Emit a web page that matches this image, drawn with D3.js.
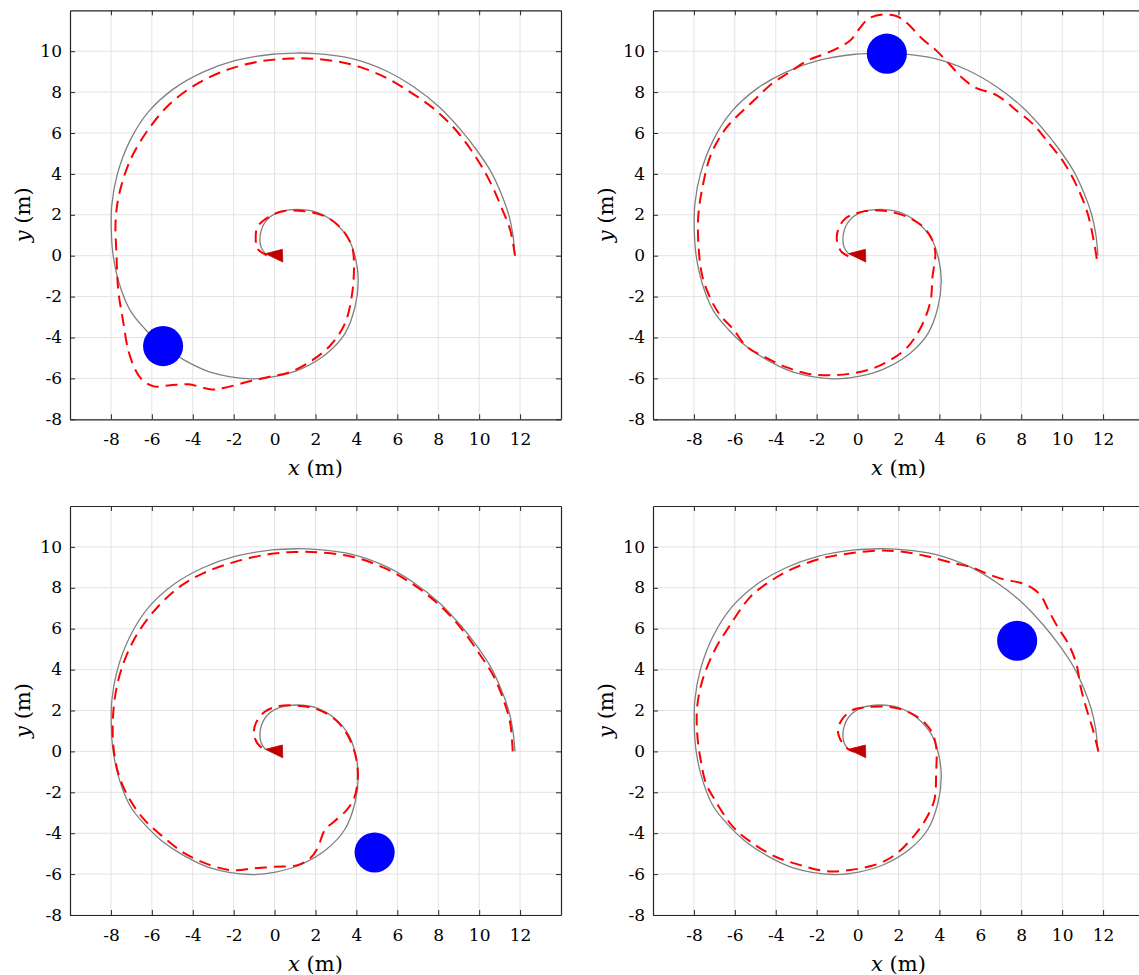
<!DOCTYPE html>
<html>
<head>
<meta charset="utf-8">
<script src="https://cdn.jsdelivr.net/npm/d3@7"></script>
<style>
  body { margin: 0; background: #ffffff; }
  svg { display: block; }
  text { font-family: "DejaVu Serif", serif; fill: #000; }
</style>
</head>
<body>
<svg id="chart" width="1139" height="975"></svg>
<script>
// ---------------- data ----------------
const xTicks = [-8, -6, -4, -2, 0, 2, 4, 6, 8, 10, 12];
const yTicks = [-8, -6, -4, -2, 0, 2, 4, 6, 8, 10];
const xDomain = [-10, 14];
const yDomain = [-8, 12];

// reference (desired) spiral path, gray
const refPath = [
  [11.75,0],[11.64,1.08],[11.43,2.05],[11.08,3.03],[10.54,4.17],[9.83,5.23],[9.12,6.13],
  [8.05,7.27],[6.81,8.25],[5.39,9.07],[3.79,9.64],[2.01,9.88],[1.03,9.91],[-0.12,9.85],
  [-1.9,9.55],[-3.5,8.98],[-4.92,8.17],[-6.17,7.03],[-7.06,5.64],[-7.68,4.01],[-7.95,2.54],
  [-7.98,1.24],[-7.89,0],[-7.59,-1.37],[-7.06,-2.67],[-6.35,-3.57],[-5.46,-4.42],[-4.39,-5.12],
  [-3.15,-5.69],[-1.19,-6.02],[0.05,-5.9],[1.3,-5.53],[2.54,-4.79],[3.43,-3.82],[3.93,-2.51],
  [4.09,-1.21],[3.96,-0.15],[3.61,0.83],[2.9,1.65],[2.01,2.14],[1.12,2.27],[0.23,2.14],
  [-0.39,1.73],[-0.69,1.08],[-0.66,0.42],[-0.45,0.1]
];

// actual (tracked) paths, red dashed, one per panel
const pathA = [
  [11.75,0],[11.52,1.24],[11.08,2.38],[10.54,3.6],[9.83,4.83],[8.94,6.05],[7.88,7.11],
  [6.63,8.0],[5.21,8.82],[3.61,9.39],[2.01,9.62],[0.76,9.64],[-0.66,9.51],[-2.26,9.11],
  [-3.77,8.41],[-5.1,7.44],[-6.26,6.05],[-7.06,4.66],[-7.59,3.03],[-7.77,1.73],[-7.73,0.1],
  [-7.64,-1.7],[-7.41,-3.16],[-7.15,-4.63],[-6.79,-5.61],[-6.44,-6.1],[-5.9,-6.39],
  [-5.1,-6.34],[-4.21,-6.29],[-3.06,-6.54],[-2.44,-6.46],[-1.37,-6.18],[-0.3,-5.93],
  [0.76,-5.69],[1.83,-5.12],[2.72,-4.39],[3.43,-3.33],[3.79,-1.86],[3.88,-0.39],[3.79,0.42],
  [3.34,1.24],[2.54,1.89],[1.48,2.17],[0.41,2.17],[-0.3,1.89],[-0.84,1.4],[-0.92,0.75],
  [-0.84,0.34],[-0.39,0.02]
];
const pathB = [
  [11.69,-0.15],[11.6,0.42],[11.25,2.05],[10.81,3.2],[10.12,4.5],[9.24,5.64],[8.55,6.46],
  [7.85,7.03],[6.81,7.84],[5.76,8.22],[5.15,8.66],[4.54,9.31],[3.84,10.04],[3.14,10.62],
  [2.44,11.35],[1.92,11.71],[1.22,11.79],[0.53,11.59],[0.09,11.1],[-0.35,10.53],[-0.87,10.21],
  [-1.57,9.88],[-2.44,9.55],[-3.31,8.98],[-4.19,8.41],[-5.06,7.6],[-5.93,6.78],[-6.45,6.21],
  [-7.15,4.99],[-7.58,3.36],[-7.79,1.89],[-7.76,0.26],[-7.58,-1.04],[-7.15,-2.18],
  [-6.71,-2.92],[-6.1,-3.57],[-5.4,-4.47],[-4.53,-4.96],[-3.49,-5.45],[-2.44,-5.77],
  [-1.39,-5.85],[-0.35,-5.77],[0.7,-5.53],[1.57,-5.12],[2.44,-4.47],[3.14,-3.41],[3.57,-2.18],
  [3.66,-1.04],[3.8,0.1],[3.66,0.75],[3.22,1.4],[2.44,1.89],[1.4,2.18],[0.35,2.18],
  [-0.61,1.81],[-0.96,1.24],[-1.01,0.75],[-0.78,0.18],[-0.35,-0.07]
];
const pathC = [
  [11.64,0],[11.52,1.37],[11.25,2.35],[10.72,3.65],[10.0,4.79],[9.12,6.02],[8.05,7.16],
  [6.81,8.14],[5.39,8.96],[3.79,9.52],[2.19,9.73],[0.94,9.75],[-0.3,9.64],[-1.9,9.28],
  [-3.5,8.71],[-4.75,7.97],[-5.99,6.75],[-6.88,5.45],[-7.5,3.98],[-7.8,2.67],[-7.91,1.37],
  [-7.86,0.07],[-7.59,-1.24],[-7.06,-2.38],[-6.35,-3.36],[-5.46,-4.17],[-4.39,-4.99],
  [-3.15,-5.56],[-2.08,-5.81],[-1.01,-5.72],[0.05,-5.64],[1.12,-5.56],[1.74,-5.23],
  [2.1,-4.74],[2.45,-3.85],[2.9,-3.44],[3.52,-2.87],[3.88,-2.3],[4.05,-1.57],[4.05,-0.75],
  [3.88,0.07],[3.52,0.88],[2.99,1.53],[2.19,2.02],[1.3,2.22],[0.23,2.22],[-0.48,1.94],
  [-0.92,1.37],[-1.01,0.88],[-0.84,0.39],[-0.39,-0.02]
];
const pathD = [
  [11.77,0],[11.51,1.04],[11.16,2.18],[10.9,3.16],[10.69,4.3],[10.29,5.28],[9.77,6.1],
  [9.33,6.91],[8.99,7.57],[8.63,7.92],[8.03,8.22],[7.15,8.41],[6.28,8.71],[5.59,9.0],
  [4.71,9.2],[3.32,9.56],[2.1,9.77],[1.05,9.82],[-0.35,9.69],[-1.74,9.44],[-3.14,8.95],
  [-4.18,8.38],[-5.23,7.57],[-6.28,6.1],[-6.98,4.96],[-7.58,3.49],[-7.84,2.18],[-7.84,0.88],
  [-7.67,-0.42],[-7.41,-1.57],[-6.97,-2.38],[-6.1,-3.68],[-5.23,-4.42],[-4.01,-5.15],
  [-2.79,-5.56],[-1.57,-5.85],[-0.35,-5.8],[1.05,-5.48],[1.92,-4.99],[2.79,-4.09],
  [3.31,-3.36],[3.75,-2.38],[3.84,-1.08],[3.84,0.23],[3.66,0.88],[3.31,1.37],[2.62,1.86],
  [1.74,2.15],[0.7,2.18],[-0.26,2.02],[-0.78,1.53],[-0.96,1.04],[-0.87,0.64],[-0.52,0.15],
  [-0.17,-0.02]
];
const actualPaths = [pathA, pathB, pathC, pathD];

// obstacle centres (m) and radius (m)
const obstacleX = [-5.45, 1.43, 4.89, 7.8];
const obstacleY = [-4.42, 9.88, -4.94, 5.41];
const obstacleR = 0.98;

// start-pose marker (triangle) vertices in metres
const startMarker = [[-0.45, 0.1], [0.38, 0.31], [0.4, -0.31]];

// ---------------- layout ----------------
const panelLeft = [70, 653, 70, 653];
const panelTop = [10.3, 10.3, 506, 506];
const plotW = 491, plotH = 409;

const svg = d3.select("#chart");

for (let p = 0; p < 4; p++) {
  const L = panelLeft[p], T = panelTop[p];
  const x = d3.scaleLinear().domain(xDomain).range([L, L + plotW]);
  const y = d3.scaleLinear().domain(yDomain).range([T + plotH, T]);
  const g = svg.append("g");

  const clipId = "clip" + p;
  g.append("clipPath").attr("id", clipId)
    .append("rect").attr("x", L).attr("y", T).attr("width", plotW).attr("height", plotH);

  // grid
  g.append("g").selectAll("line").data(xTicks).join("line")
    .attr("x1", d => x(d)).attr("x2", d => x(d)).attr("y1", T).attr("y2", T + plotH)
    .attr("stroke", "#e3e3e3").attr("stroke-width", 1);
  g.append("g").selectAll("line").data(yTicks).join("line")
    .attr("y1", d => y(d)).attr("y2", d => y(d)).attr("x1", L).attr("x2", L + plotW)
    .attr("stroke", "#e3e3e3").attr("stroke-width", 1);

  const data = g.append("g").attr("clip-path", `url(#${clipId})`);
  const line = d3.line().x(d => x(d[0])).y(d => y(d[1])).curve(d3.curveCatmullRom.alpha(0.5));

  data.append("path").datum(refPath).attr("d", line)
    .attr("fill", "none").attr("stroke", "#808080").attr("stroke-width", 1.3);

  data.append("path").datum(actualPaths[p]).attr("d", line)
    .attr("fill", "none").attr("stroke", "#ff0000").attr("stroke-width", 2)
    .attr("stroke-dasharray", "12,7");

  data.append("ellipse")
    .attr("cx", x(obstacleX[p])).attr("cy", y(obstacleY[p]))
    .attr("rx", x(obstacleR) - x(0)).attr("ry", y(0) - y(obstacleR))
    .attr("fill", "#0000ff");

  data.append("path").datum(startMarker)
    .attr("d", d3.line().x(d => x(d[0])).y(d => y(d[1])).curve(d3.curveLinearClosed))
    .attr("fill", "#c00000").attr("stroke", "#c00000").attr("stroke-width", 0.8);

  // axes: bottom & left with labels, top & right mirrored ticks
  const axisColor = "#262626";
  const xb = g.append("g").attr("transform", `translate(0,${T + plotH})`)
    .call(d3.axisBottom(x).tickValues(xTicks).tickSizeInner(-5).tickSizeOuter(0).tickPadding(14)
      .tickFormat(d3.format("d")));
  const xt = g.append("g").attr("transform", `translate(0,${T})`)
    .call(d3.axisTop(x).tickValues(xTicks).tickSizeInner(-5).tickSizeOuter(0).tickFormat(""));
  const yl = g.append("g").attr("transform", `translate(${L},0)`)
    .call(d3.axisLeft(y).tickValues(yTicks).tickSizeInner(-5).tickSizeOuter(0).tickPadding(8)
      .tickFormat(d3.format("d")));
  const yr = g.append("g").attr("transform", `translate(${L + plotW},0)`)
    .call(d3.axisRight(y).tickValues(yTicks).tickSizeInner(-5).tickSizeOuter(0).tickFormat(""));

  [xb, xt, yl, yr].forEach(a => {
    a.select(".domain").attr("stroke", axisColor).attr("stroke-width", 1.2);
    a.selectAll(".tick line").attr("stroke", axisColor).attr("stroke-width", 1);
  });
  [xb, yl].forEach(a => {
    a.selectAll(".tick text")
      .attr("font-family", "DejaVu Serif, serif").attr("font-size", 17).attr("fill", "#000")
      .text(d => (d < 0 ? "-" + Math.abs(d) : String(d)));
  });
  xb.selectAll(".tick text").attr("dy", "0.71em");
  yl.selectAll(".tick text").attr("dy", "0.3em");

  // axis titles
  const xl = g.append("text")
    .attr("x", L + plotW / 2).attr("y", T + plotH + 56)
    .attr("text-anchor", "middle").attr("font-size", 21);
  xl.append("tspan").attr("font-style", "italic").text("x");
  xl.append("tspan").text(" (m)");

  const ylab = g.append("text")
    .attr("transform", `translate(${L - 40},${T + plotH / 2}) rotate(-90)`)
    .attr("text-anchor", "middle").attr("font-size", 21);
  ylab.append("tspan").attr("font-style", "italic").text("y");
  ylab.append("tspan").text(" (m)");
}
</script>
</body>
</html>
